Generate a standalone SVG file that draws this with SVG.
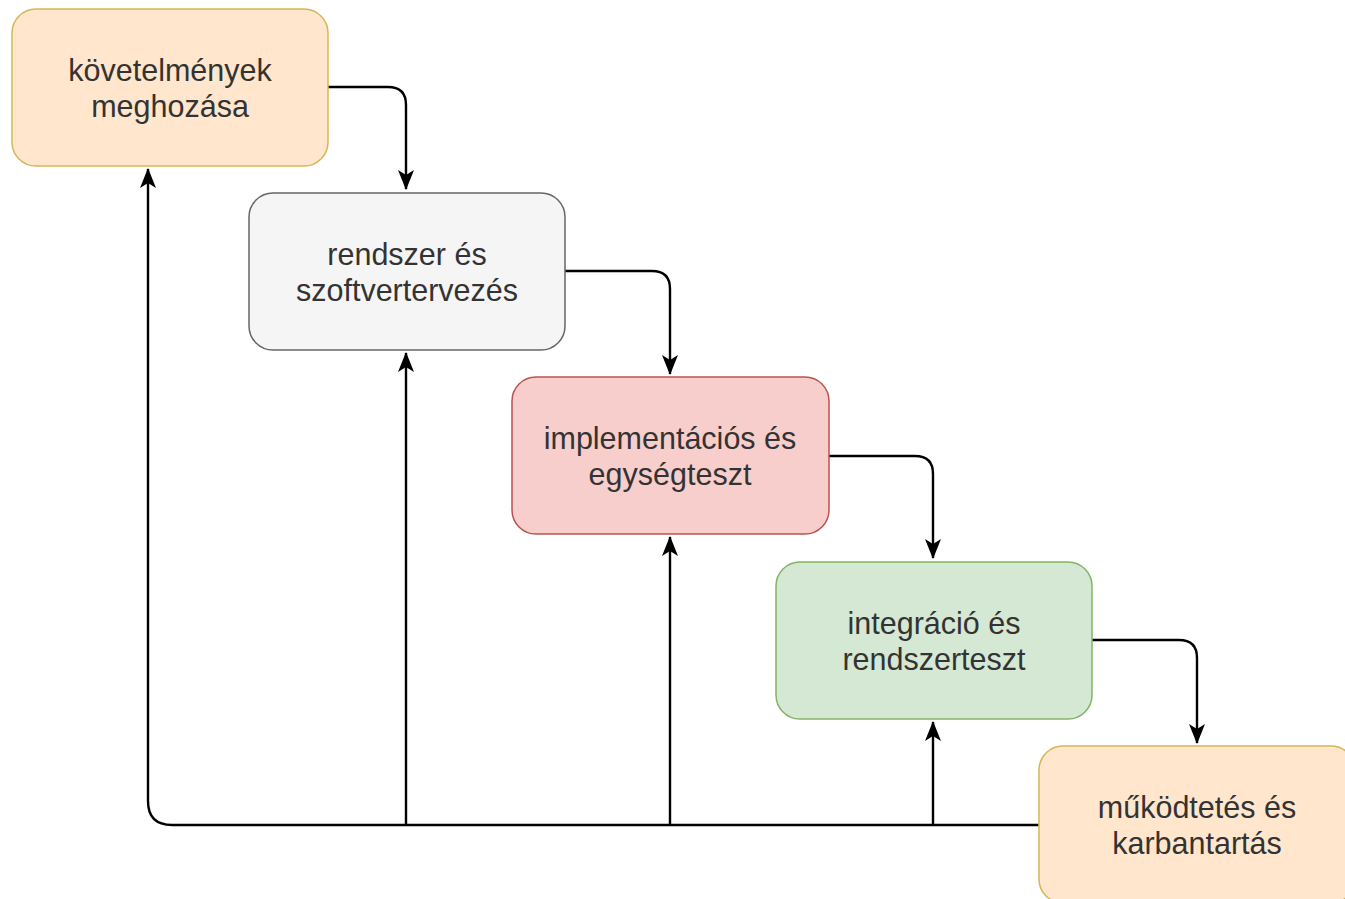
<svg xmlns="http://www.w3.org/2000/svg" width="1345" height="899" viewBox="0 0 1345 899">
<style>
.box{stroke-width:1.5}
.t{font-family:"Liberation Sans",Arial,sans-serif;font-size:30.5px;fill:#333;text-anchor:middle}
.c{fill:none;stroke:#000;stroke-width:2.4}
</style>
<defs>
<marker id="ah" viewBox="0 0 20 20" refX="19" refY="10" markerWidth="20" markerHeight="20" markerUnits="userSpaceOnUse" orient="auto">
<path d="M0,2 L20,10 L0,18 L5,10 Z" fill="#000"/>
</marker>
</defs>
<rect width="1345" height="899" fill="#fff"/>
<g id="connectors">
<path class="c" d="M328,87 H388 Q406,87 406,105 V189" marker-end="url(#ah)"/>
<path class="c" d="M565,271 H652 Q670,271 670,289 V374" marker-end="url(#ah)"/>
<path class="c" d="M829,456 H915 Q933,456 933,474 V558" marker-end="url(#ah)"/>
<path class="c" d="M1092,640 H1179 Q1197,640 1197,658 V743" marker-end="url(#ah)"/>
<path class="c" d="M1039,825 H172 Q148,825 148,801 V169" marker-end="url(#ah)"/>
<path class="c" d="M406,825 V353" marker-end="url(#ah)"/>
<path class="c" d="M670,825 V537" marker-end="url(#ah)"/>
<path class="c" d="M933,825 V722" marker-end="url(#ah)"/>
</g>
<g id="n1">
<rect class="box" x="12" y="9" width="316" height="157" rx="24" fill="#ffe6cc" stroke="#d6b656"/>
<text class="t" x="170" y="81">követelmények</text>
<text class="t" x="170" y="117">meghozása</text>
</g>
<g id="n2">
<rect class="box" x="249" y="193" width="316" height="157" rx="24" fill="#f5f5f5" stroke="#666"/>
<text class="t" x="407" y="265">rendszer és</text>
<text class="t" x="407" y="301">szoftvertervezés</text>
</g>
<g id="n3">
<rect class="box" x="512" y="377" width="317" height="157" rx="24" fill="#f8cecc" stroke="#b85450"/>
<text class="t" x="670" y="449">implementációs és</text>
<text class="t" x="670" y="485">egységteszt</text>
</g>
<g id="n4">
<rect class="box" x="776" y="562" width="316" height="157" rx="24" fill="#d5e8d4" stroke="#82b366"/>
<text class="t" x="934" y="634">integráció és</text>
<text class="t" x="934" y="670">rendszerteszt</text>
</g>
<g id="n5">
<rect class="box" x="1039" y="746" width="316" height="157" rx="24" fill="#ffe6cc" stroke="#d6b656"/>
<text class="t" x="1197" y="818">működtetés és</text>
<text class="t" x="1197" y="854">karbantartás</text>
</g>
</svg>
